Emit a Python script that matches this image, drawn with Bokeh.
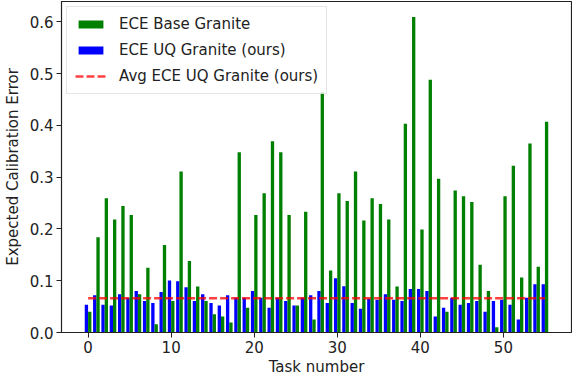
from bokeh.plotting import figure
from bokeh.models import ColumnDataSource, FixedTicker, PrintfTickFormatter, Range1d, Legend, LegendItem
from bokeh.transform import dodge
from bokeh.embed import file_html
from bokeh.resources import INLINE

tasks = list(range(56))
ece_base = [0.040, 0.184, 0.259, 0.218, 0.244, 0.227, 0.074, 0.125, 0.016, 0.169,
            0.061, 0.311, 0.138, 0.089, 0.061, 0.035, 0.031, 0.0195, 0.348, 0.048,
            0.227, 0.269, 0.369, 0.348, 0.227, 0.052, 0.233, 0.025, 0.465, 0.1195,
            0.269, 0.254, 0.311, 0.216, 0.259, 0.248, 0.218, 0.089, 0.403, 0.609,
            0.199, 0.488, 0.297, 0.040, 0.274, 0.263, 0.252, 0.131, 0.080, 0.010,
            0.263, 0.322, 0.106, 0.365, 0.127, 0.407]
ece_uq = [0.0535, 0.072, 0.0535, 0.052, 0.074, 0.067, 0.080, 0.061, 0.057, 0.078,
          0.1005, 0.0988, 0.0875, 0.061, 0.074, 0.057, 0.052, 0.072, 0.067, 0.067,
          0.080, 0.067, 0.048, 0.067, 0.061, 0.052, 0.067, 0.072, 0.080, 0.057,
          0.1045, 0.0894, 0.057, 0.046, 0.065, 0.063, 0.074, 0.063, 0.061, 0.0838,
          0.0838, 0.080, 0.0308, 0.048, 0.067, 0.0535, 0.057, 0.061, 0.040, 0.061,
          0.063, 0.0535, 0.025, 0.067, 0.093, 0.093]
avg_ece_uq = 0.066
x_ticks = [0, 10, 20, 30, 40, 50]
y_ticks = [0.0, 0.1, 0.2, 0.3, 0.4, 0.5, 0.6]

src = ColumnDataSource(dict(task=tasks, base=ece_base, uq=ece_uq))

FONT = "DejaVu Sans"
FS = "15px"
p = figure(width=572, height=378, output_backend="svg", toolbar_location=None,
           x_range=Range1d(-3.2, 58.2), y_range=Range1d(0, 0.639),
           min_border_left=50, min_border_right=1, min_border_top=1, min_border_bottom=10)
p.background_fill_color = "white"
p.border_fill_color = "white"
p.outline_line_color = "#222222"
p.outline_line_width = 1.2
p.xgrid.visible = False
p.ygrid.visible = False

r_uq = p.vbar(x=dodge("task", -0.2, range=p.x_range), top="uq", width=0.4, source=src,
              fill_color="blue", line_color=None)
r_base = p.vbar(x=dodge("task", 0.2, range=p.x_range), top="base", width=0.4, source=src,
                fill_color="green", line_color=None)
r_avg = p.line(x=[tasks[0], tasks[-1]], y=[avg_ece_uq, avg_ece_uq], line_color="red",
               line_alpha=0.75, line_width=2.6, line_dash="8 3")

for ax in (p.xaxis[0], p.yaxis[0]):
    ax.major_label_text_font = FONT
    ax.major_label_text_font_size = FS
    ax.major_label_text_color = "#222222"
    ax.axis_label_text_font = FONT
    ax.axis_label_text_font_size = FS
    ax.axis_label_text_font_style = "normal"
    ax.axis_label_text_color = "#222222"
    ax.minor_tick_line_color = None
    ax.major_tick_in = 0
    ax.major_tick_out = 5
    ax.major_tick_line_color = "#222222"
    ax.axis_line_color = "#222222"

p.xaxis.ticker = FixedTicker(ticks=x_ticks)
p.yaxis.ticker = FixedTicker(ticks=y_ticks)
p.yaxis.formatter = PrintfTickFormatter(format="%.1f")
p.xaxis.axis_label = "Task number"
p.yaxis.axis_label = "Expected Calibration Error"
p.xaxis.axis_label_standoff = 2
p.yaxis.axis_label_standoff = 5
p.xaxis.major_label_standoff = 3
p.yaxis.major_label_standoff = 3

legend = Legend(items=[
    LegendItem(label="ECE Base Granite", renderers=[r_base]),
    LegendItem(label="ECE UQ Granite (ours)", renderers=[r_uq]),
    LegendItem(label="Avg ECE UQ Granite (ours)", renderers=[r_avg]),
], location="top_left")
legend.label_text_font = FONT
legend.label_text_font_size = FS
legend.label_text_color = "#222222"
legend.glyph_width = 31
legend.glyph_height = 10
legend.label_height = 15
legend.spacing = 8
legend.padding = 8
legend.margin = 5
legend.label_standoff = 13
legend.border_line_color = "#cccccc"
legend.border_line_width = 1
legend.background_fill_alpha = 0.85
p.add_layout(legend)

open("out.html", "w").write(file_html(p, INLINE))
